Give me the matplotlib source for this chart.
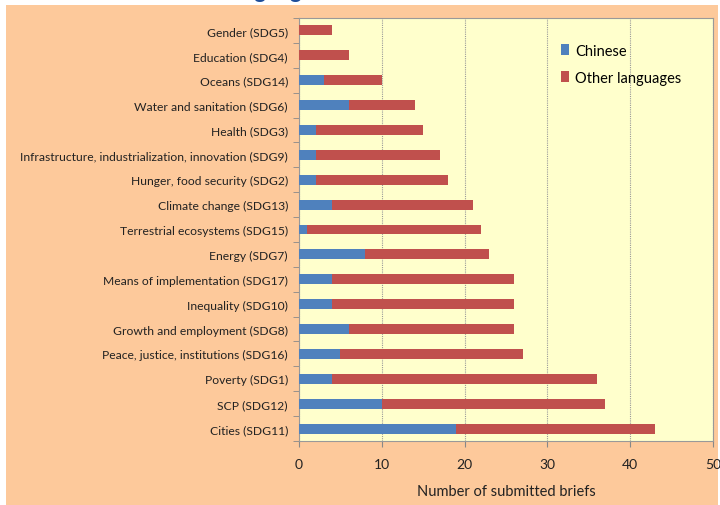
import matplotlib
matplotlib.use("Agg")
import matplotlib.pyplot as plt
from matplotlib.patches import Rectangle
import numpy as np

# data, listed top row first
categories = [
    "Gender (SDG5)", "Education (SDG4)", "Oceans (SDG14)",
    "Water and sanitation (SDG6)", "Health (SDG3)",
    "Infrastructure, industrialization, innovation (SDG9)",
    "Hunger, food security (SDG2)", "Climate change (SDG13)",
    "Terrestrial ecosystems (SDG15)", "Energy (SDG7)",
    "Means of implementation (SDG17)", "Inequality (SDG10)",
    "Growth and employment (SDG8)", "Peace, justice, institutions (SDG16)",
    "Poverty (SDG1)", "SCP (SDG12)", "Cities (SDG11)",
]
chinese = [0, 0, 3, 6, 2, 2, 2, 4, 1, 8, 4, 4, 6, 5, 4, 10, 19]
other = [4, 6, 7, 8, 13, 15, 16, 17, 21, 15, 22, 22, 20, 22, 32, 27, 24]
xticks = [0, 10, 20, 30, 40, 50]

BLUE = "#4F81BD"
RED = "#C0504D"
PEACH = "#FDC99B"
PLOT_BG = "#FFFFCC"

plt.rcParams["font.family"] = ["Lato", "DejaVu Sans"]

W, H = 720, 506
fig = plt.figure(figsize=(W / 100, H / 100), dpi=100)
fig.patch.set_facecolor("white")
# peach chart area with a thin white margin
fig.patches.append(Rectangle((6 / W, 0), (712 / W), 500 / H,
                             transform=fig.transFigure, facecolor=PEACH,
                             edgecolor="none", zorder=-10))
# cut-off title at the very top
fig.text(226 / W, 1 + 2 / H, "language", color="#1F4E9A", fontsize=16,
         fontweight="bold", ha="left", va="baseline")

ax = fig.add_axes([299 / W, 1 - 442 / H, (713 - 299) / W, (442 - 19) / H])
ax.set_facecolor(PLOT_BG)

y = np.arange(len(categories))
ax.barh(y, chinese, height=0.4, color=BLUE, label="Chinese", zorder=3)
ax.barh(y, other, left=chinese, height=0.4, color=RED,
        label="Other languages", zorder=3)

ax.set_ylim(len(categories) - 0.5, -0.5)
ax.set_yticks(y)
ax.set_yticklabels(categories, fontsize=8.7, color="#222222")
ax.set_yticks(np.arange(-0.5, len(categories)), minor=True)
ax.tick_params(axis="y", which="major", length=0, pad=8)
ax.tick_params(axis="y", which="minor", length=4, color="#888888")

ax.set_xlim(0, 50)
ax.set_xticks(xticks)
ax.tick_params(axis="x", labelsize=10, length=4, color="#888888",
               colors="#222222", pad=8)
ax.set_xlabel("Number of submitted briefs", fontsize=10.5, color="#222222",
              labelpad=10)
ax.grid(axis="x", color="#999999", linestyle=(0, (1, 1)), linewidth=0.8,
        zorder=0)
for s in ax.spines.values():
    s.set_color("#999999")
    s.set_linewidth(0.8)

ax.legend(loc="upper left", bbox_to_anchor=(0.6, 0.97), frameon=False,
          fontsize=10.5, handlelength=0.6, handleheight=0.8,
          handletextpad=0.4, labelspacing=0.9)

fig.savefig("out.png", dpi=100, facecolor=fig.get_facecolor())
